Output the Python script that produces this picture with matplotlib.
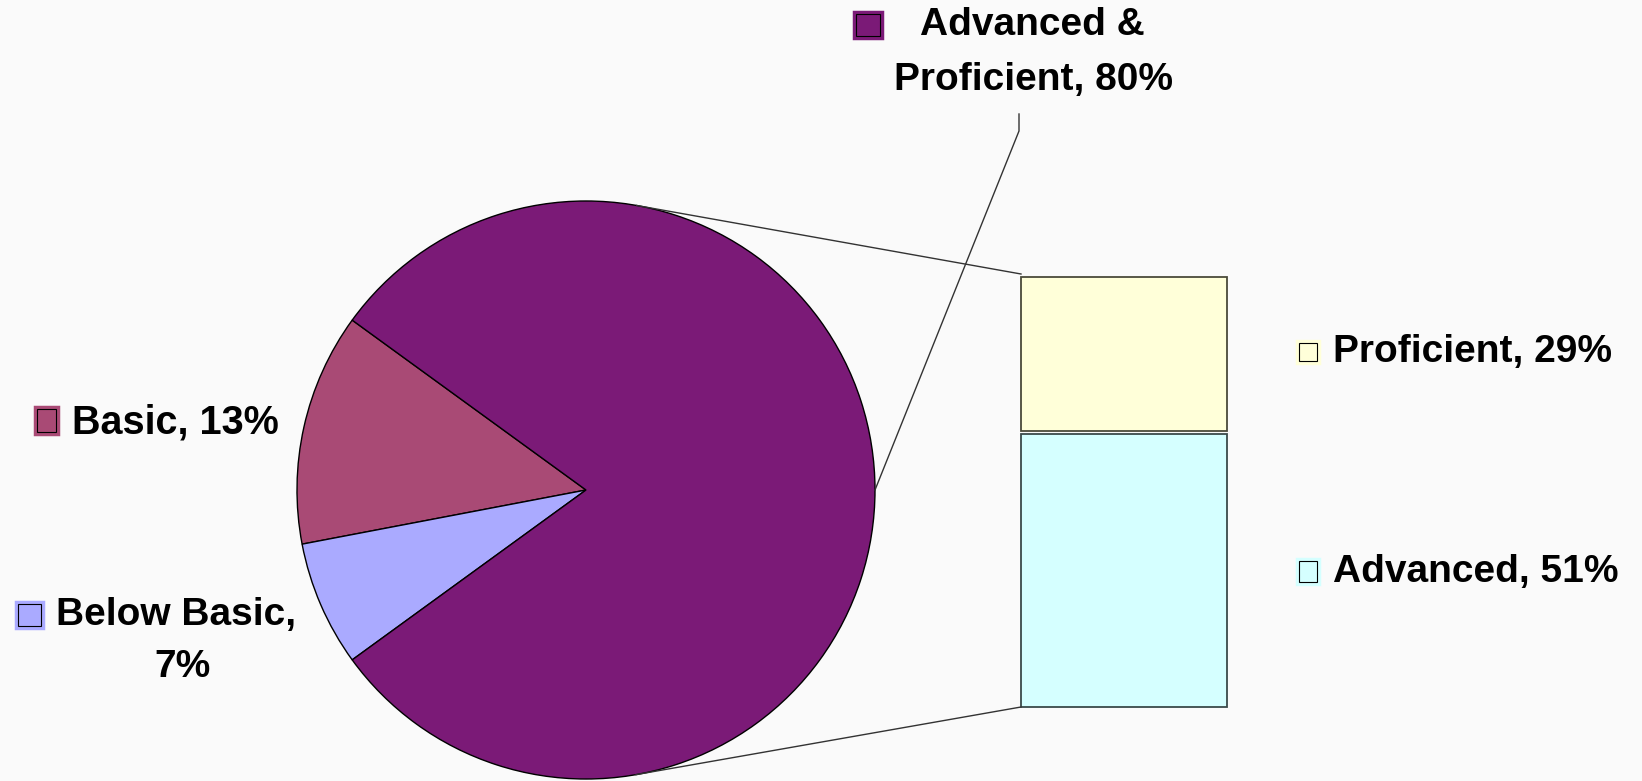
import numpy as np
import matplotlib.pyplot as plt
from matplotlib.patches import Rectangle

# pie part (left) and bar part (right, split of the 80% slice)
pie_labels = ["Basic", "Below Basic", "Advanced &\nProficient"]
pie_values = [13, 7, 80]
pie_colors = ["#A94A75", "#AAAAFF", "#7B1A77"]

bar_labels = ["Advanced", "Proficient"]
bar_values = [51, 29]
bar_colors = ["#D5FFFF", "#FFFFD9"]
bar_edges = ["#3A4A4A", "#4A4A3A"]

W, H = 1642, 781
bg = "#FAFAFA"

fig = plt.figure(figsize=(W / 100, H / 100), dpi=100, facecolor=bg)
ax = fig.add_axes([0, 0, 1, 1])
ax.set_facecolor(bg)

# pie, combined slice centred on the right
cx, cy, r = 586, 291, 289
start = 180 - sum(pie_values[:2]) / 2 * 3.6
ax.pie(pie_values, colors=pie_colors, startangle=start, counterclock=True,
       center=(cx, cy), radius=r,
       wedgeprops=dict(edgecolor="black", linewidth=1.0))

# stacked bar for the split
bx, bw = 1124, 206
b0 = 74
scale = 433 / sum(bar_values)
bottom = b0
for v, c, e in zip(bar_values, bar_colors, bar_edges):
    ax.bar(bx, v * scale - 3, width=bw, bottom=bottom, color=c,
           edgecolor=e, linewidth=1.3)
    bottom += v * scale
b_top = b0 + sum(bar_values) * scale

# connector lines, tangent from bar corners to the pie
for corner_y in (b_top, b0):
    dx, dy = bx - bw / 2 - cx, corner_y - cy
    d = np.hypot(dx, dy)
    a = np.arctan2(dy, dx) + np.sign(dy) * np.arccos(r / d)
    ax.plot([cx + r * np.cos(a), bx - bw / 2], [cy + r * np.sin(a), corner_y],
            color="#333333", linewidth=1.0)

# leader for the combined slice label
ax.plot([cx + r, 1019, 1019], [cy, 650, 667], color="#333333", linewidth=1.0)

font = dict(family=["Liberation Sans", "DejaVu Sans"], fontweight="bold",
            color="black")


def marker(x0, y_img0, x1, y_img1, color):
    ax.add_patch(Rectangle((x0, H - y_img1), x1 - x0, y_img1 - y_img0,
                           facecolor=color, edgecolor=color, linewidth=2.5))
    ax.add_patch(Rectangle((x0 + 2, H - y_img1 + 2), x1 - x0 - 4, y_img1 - y_img0 - 4,
                           facecolor=color, edgecolor="black", linewidth=0.8))


# pie labels
marker(35, 407, 58, 434, pie_colors[0])
ax.text(72, 359, f"{pie_labels[0]}, {pie_values[0]}%", fontsize=28.5,
        ha="left", va="center", **font)

marker(16, 602, 43, 628, pie_colors[1])
ax.text(56, 166, f"{pie_labels[1]},", fontsize=28, ha="left", va="center", **font)
ax.text(182, 114, f"{pie_values[1]}%", fontsize=28, ha="center", va="center", **font)

marker(854, 12, 882, 38, pie_colors[2])
top_lines = pie_labels[2].split("\n")
ax.text(1032, 756, top_lines[0], fontsize=28, ha="center", va="center", **font)
ax.text(1033, 701, f"{top_lines[1]}, {pie_values[2]}%", fontsize=28,
        ha="center", va="center", **font)

# bar labels
marker(1297, 341, 1319, 363, bar_colors[1])
ax.text(1333, 429, f"{bar_labels[1]}, {bar_values[1]}%", fontsize=28,
        ha="left", va="center", **font)
marker(1297, 559, 1319, 584, bar_colors[0])
ax.text(1333, 209, f"{bar_labels[0]}, {bar_values[0]}%", fontsize=28,
        ha="left", va="center", **font)

ax.set_xlim(0, W)
ax.set_ylim(0, H)
ax.set_aspect("equal")
ax.axis("off")

fig.savefig("out.png", dpi=100, facecolor=bg)
